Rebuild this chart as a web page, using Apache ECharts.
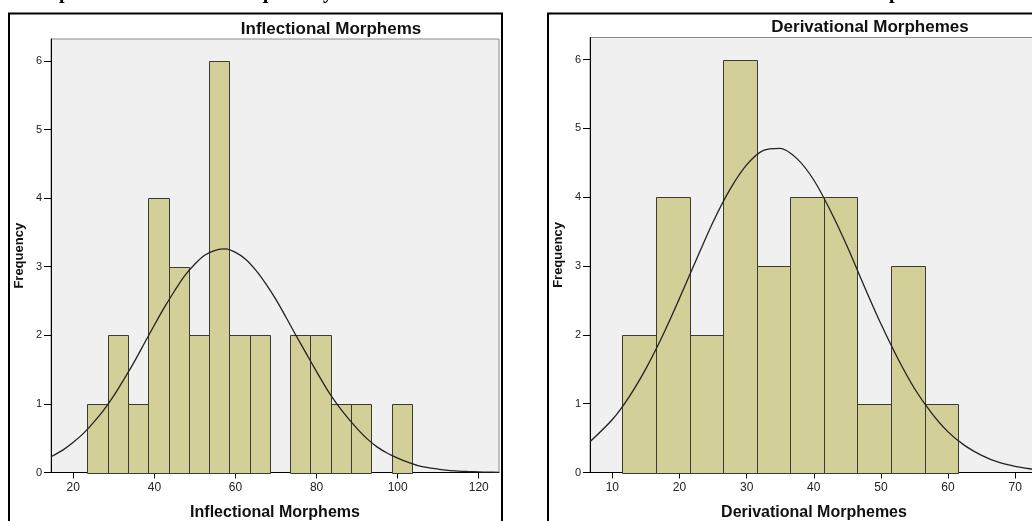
<!DOCTYPE html>
<html>
<head>
<meta charset="utf-8">
<script src="https://cdn.jsdelivr.net/npm/echarts@6/dist/echarts.min.js"></script>
<style>html,body{margin:0;padding:0;background:#fff;}#c{width:1032px;height:521px;}</style>
</head>
<body>
<div id="c"></div>
<script>
// ---- data ----
const binWidth = 5;
const inflBinStart = [23.5, 28.5, 33.5, 38.5, 43.5, 48.5, 53.5, 58.5, 63.5, 68.5, 73.5, 78.5, 83.5, 88.5, 93.5, 98.5];
const inflCounts   = [1, 2, 1, 4, 3, 2, 6, 2, 2, 0, 2, 2, 1, 1, 0, 1];
const derivBinStart = [11.5, 16.5, 21.5, 26.5, 31.5, 36.5, 41.5, 46.5, 51.5, 56.5];
const derivCounts   = [2, 4, 2, 6, 3, 4, 4, 1, 3, 1];

// normal curves
const inflCurveX = [14.5, 17.5, 20, 22.5, 25, 27.5, 30, 32.5, 35, 37.5, 40, 42.5, 45, 47.5, 50, 52.5, 55, 57.5, 60, 62.5, 65, 67.5, 70, 72.5, 75, 77.5, 80, 82.5, 85, 87.5, 90, 92.5, 95, 97.5, 100, 102.5, 105, 107.5, 110, 112.5, 115, 117.5, 120, 122.5, 125];
const inflCurveY = [0.23, 0.33, 0.44, 0.57, 0.73, 0.91, 1.12, 1.36, 1.61, 1.88, 2.15, 2.41, 2.65, 2.87, 3.04, 3.17, 3.24, 3.26, 3.21, 3.11, 2.95, 2.75, 2.52, 2.26, 1.99, 1.73, 1.47, 1.22, 1.00, 0.81, 0.64, 0.49, 0.37, 0.28, 0.21, 0.15, 0.10, 0.07, 0.05, 0.03, 0.02, 0.014, 0.009, 0.005, 0.003];
const derivCurveX = [6.7, 10, 12.5, 15, 17.5, 20, 22.5, 25, 27.5, 30, 32.5, 35, 37.5, 40, 42.5, 45, 47.5, 50, 52.5, 55, 57.5, 60, 62.5, 65, 67.5, 70, 72.5, 73.4];
const derivCurveY = [0.45, 0.77, 1.10, 1.51, 1.99, 2.53, 3.09, 3.64, 4.11, 4.47, 4.68, 4.71, 4.56, 4.25, 3.80, 3.28, 2.71, 2.16, 1.66, 1.22, 0.87, 0.59, 0.39, 0.25, 0.15, 0.09, 0.05, 0.04];

const freqTicks = [0, 1, 2, 3, 4, 5, 6];
const inflTicks = [20, 40, 60, 80, 100, 120];
const derivTicks = [10, 20, 30, 40, 50, 60, 70];

const titles = ['Inflectional Morphems', 'Derivational Morphemes'];
const xNames = ['Inflectional Morphems', 'Derivational Morphemes'];
const yName = 'Frequency';

// ---- build ----
function bins(starts, counts) {
  return starts.map((s, i) => [s, s + binWidth, counts[i]]);
}
function pairs(xs, ys) { return xs.map((x, i) => [x, ys[i]]); }

function renderHist(params, api) {
  const c = api.value(2);
  if (!c) return null;
  const p0 = api.coord([api.value(0), c]);
  const p1 = api.coord([api.value(1), 0]);
  return {
    type: 'rect',
    shape: { x: Math.round(p0[0]) + 0.5, y: Math.round(p0[1]) + 0.5, width: Math.round(p1[0]) - Math.round(p0[0]), height: Math.round(p1[1]) - Math.round(p0[1]) },
    style: { fill: '#D3CF98', stroke: '#3a3a2e', lineWidth: 1 }
  };
}

const FONT = 'Liberation Sans, Arial, sans-serif';

function xAxis(idx, min, max, ticks, name) {
  return {
    type: 'value', gridIndex: idx, min: min, max: max,
    name: name, nameLocation: 'middle', nameGap: 32,
    nameTextStyle: { fontFamily: FONT, fontWeight: 'bold', fontSize: 16, color: '#111' },
    axisLine: { show: true, lineStyle: { color: '#000', width: 1 } },
    axisTick: { show: true, length: 6, lineStyle: { color: '#000' }, customValues: ticks },
    axisLabel: { fontFamily: FONT, fontSize: 12, color: '#222', margin: 9, customValues: ticks },
    splitLine: { show: false }
  };
}
function yAxis(idx) {
  return {
    type: 'value', gridIndex: idx, min: 0, max: 6.32,
    name: yName, nameLocation: 'middle', nameGap: 25,
    nameTextStyle: { fontFamily: FONT, fontWeight: 'bold', fontSize: 13, color: '#111' },
    axisLine: { show: true, lineStyle: { color: '#000', width: 1 } },
    axisTick: { show: true, length: 7, lineStyle: { color: '#000' }, customValues: freqTicks },
    axisLabel: { fontFamily: FONT, fontSize: 11, color: '#222', margin: 9, customValues: freqTicks },
    splitLine: { show: false }
  };
}

const chart = echarts.init(document.getElementById('c'), null, { renderer: 'canvas' });
const glyphFont = 'bold 20px "Liberation Serif", serif';
chart.setOption({
  animation: false,
  backgroundColor: '#fff',
  grid: [
    { left: 51, top: 39, width: 448, height: 433.5, show: true, backgroundColor: '#F0F0F0', borderColor: '#8a8a8a', borderWidth: 1, outerBoundsMode: 'none', containLabel: false },
    { left: 590, top: 37.5, width: 448, height: 435, show: true, backgroundColor: '#F0F0F0', borderColor: '#8a8a8a', borderWidth: 1, outerBoundsMode: 'none', containLabel: false }
  ],
  title: [
    { text: titles[0], left: 326, top: 16, textAlign: 'center', textStyle: { fontFamily: FONT, fontWeight: 'bold', fontSize: 17, color: '#111' } },
    { text: titles[1], left: 865, top: 14, textAlign: 'center', textStyle: { fontFamily: FONT, fontWeight: 'bold', fontSize: 17, color: '#111' } }
  ],
  xAxis: [xAxis(0, 14.5, 125, inflTicks, xNames[0]), xAxis(1, 6.67, 73.4, derivTicks, xNames[1])],
  yAxis: [yAxis(0), yAxis(1)],
  graphic: [
    { type: 'rect', shape: { x: 9, y: 13.5, width: 493, height: 600 }, style: { fill: 'none', stroke: '#000', lineWidth: 2 }, silent: true },
    { type: 'rect', shape: { x: 548, y: 13.5, width: 493, height: 600 }, style: { fill: 'none', stroke: '#000', lineWidth: 2 }, silent: true },
    { type: 'text', x: 59, y: -7, style: { text: 'p', font: glyphFont, fill: '#000', textAlign: 'left', textVerticalAlign: 'middle' }, silent: true },
    { type: 'text', x: 257, y: -7, style: { text: 'q', font: glyphFont, fill: '#000', textAlign: 'left', textVerticalAlign: 'middle' }, silent: true },
    { type: 'text', x: 323, y: -7, style: { text: 'y', font: glyphFont, fill: '#000', textAlign: 'left', textVerticalAlign: 'middle' }, silent: true },
    { type: 'text', x: 889, y: -7, style: { text: 'p', font: glyphFont, fill: '#000', textAlign: 'left', textVerticalAlign: 'middle' }, silent: true }
  ],
  series: [
    { type: 'custom', xAxisIndex: 0, yAxisIndex: 0, renderItem: renderHist, data: bins(inflBinStart, inflCounts), encode: { x: [0, 1], y: 2 } },
    { type: 'line', xAxisIndex: 0, yAxisIndex: 0, data: pairs(inflCurveX, inflCurveY), smooth: 0.3, showSymbol: false, symbol: 'none', lineStyle: { color: '#222', width: 1.3 }, z: 5 },
    { type: 'custom', xAxisIndex: 1, yAxisIndex: 1, renderItem: renderHist, data: bins(derivBinStart, derivCounts), encode: { x: [0, 1], y: 2 } },
    { type: 'line', xAxisIndex: 1, yAxisIndex: 1, data: pairs(derivCurveX, derivCurveY), smooth: 0.3, showSymbol: false, symbol: 'none', lineStyle: { color: '#222', width: 1.3 }, z: 5 }
  ]
});
</script>
</body>
</html>
